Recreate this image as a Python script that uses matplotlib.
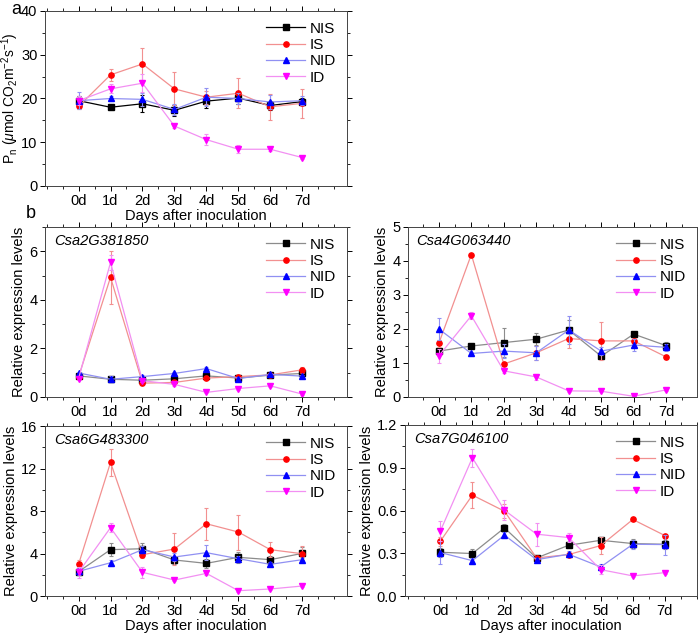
import matplotlib
matplotlib.use('Agg')
import matplotlib.pyplot as plt
import numpy as np
from matplotlib.ticker import MultipleLocator, FormatStrFormatter

plt.rcParams['font.family'] = ['Liberation Sans', 'DejaVu Sans']
plt.rcParams['mathtext.fontset'] = 'custom'
plt.rcParams['mathtext.rm'] = 'Liberation Sans'
plt.rcParams['mathtext.it'] = 'Liberation Sans:italic'

dias = ['0d', '1d', '2d', '3d', '4d', '5d', '6d', '7d']
grupos = ['NIS', 'IS', 'NID', 'ID']

# Painel a: fotossintese
pn_nis = [19.5, 18.0, 18.8, 17.3, 19.4, 20.1, 18.4, 19.3]
pn_is = [18.2, 25.4, 27.9, 22.2, 20.3, 21.2, 18.1, 18.9]
pn_nid = [19.5, 20.0, 19.8, 17.5, 20.3, 20.0, 19.2, 19.5]
pn_id = [19.5, 22.2, 23.5, 13.7, 10.6, 8.4, 8.4, 6.5]
pn_nis_err = [1.0, 0.5, 2.0, 1.3, 1.5, 1.3, 1.0, 0.8]
pn_is_err = [0.6, 1.3, 3.6, 3.8, 1.5, 3.4, 3.0, 3.3]
pn_nid_err = [2.0, 0.6, 1.5, 1.2, 2.0, 1.2, 1.5, 1.0]
pn_id_err = [1.0, 1.0, 2.0, 0.4, 1.2, 0.9, 0.5, 0.4]

# Painel b: expressao relativa
g1_nis = [0.87, 0.73, 0.69, 0.75, 0.87, 0.78, 0.90, 0.97]
g1_is = [0.83, 4.93, 0.57, 0.60, 0.78, 0.84, 0.91, 1.12]
g1_nid = [0.99, 0.73, 0.84, 0.97, 1.17, 0.76, 0.93, 0.86]
g1_id = [0.76, 5.54, 0.67, 0.52, 0.19, 0.35, 0.46, 0.12]
g1_nis_err = [0.06, 0.1, 0.05, 0.05, 0.06, 0.05, 0.1, 0.08]
g1_is_err = [0.05, 1.1, 0.08, 0.08, 0.1, 0.05, 0.05, 0.12]
g1_nid_err = [0.06, 0.12, 0.05, 0.05, 0.05, 0.05, 0.06, 0.05]
g1_id_err = [0.06, 0.3, 0.05, 0.08, 0.04, 0.08, 0.05, 0.03]

g2_nis = [1.35, 1.50, 1.60, 1.70, 1.97, 1.20, 1.85, 1.51]
g2_is = [1.58, 4.19, 0.97, 1.30, 1.72, 1.65, 1.65, 1.18]
g2_nid = [2.00, 1.28, 1.35, 1.30, 1.97, 1.35, 1.53, 1.46]
g2_id = [1.21, 2.39, 0.77, 0.59, 0.18, 0.17, 0.02, 0.21]
g2_nis_err = [0.1, 0.03, 0.42, 0.17, 0.3, 0.05, 0.05, 0.1]
g2_is_err = [0.1, 0.03, 0.05, 0.2, 0.28, 0.57, 0.1, 0.05]
g2_nid_err = [0.33, 0.03, 0.2, 0.2, 0.4, 0.12, 0.17, 0.1]
g2_id_err = [0.2, 0.1, 0.05, 0.1, 0.03, 0.03, 0.02, 0.03]

g3_nis = [2.29, 4.36, 4.45, 3.39, 3.07, 3.64, 3.42, 4.01]
g3_is = [2.98, 12.57, 3.89, 4.42, 6.80, 6.02, 4.36, 3.98]
g3_nid = [2.32, 3.13, 4.36, 3.67, 4.08, 3.51, 2.98, 3.42]
g3_id = [2.23, 6.43, 2.23, 1.50, 2.13, 0.50, 0.66, 0.94]
g3_nis_err = [0.3, 0.6, 0.5, 0.4, 0.4, 0.5, 0.3, 0.6]
g3_is_err = [0.4, 1.3, 0.3, 1.5, 1.5, 1.65, 0.7, 0.7]
g3_nid_err = [0.3, 0.3, 0.3, 0.4, 0.7, 0.3, 0.2, 0.2]
g3_id_err = [0.5, 0.4, 0.5, 0.1, 0.2, 0.1, 0.1, 0.1]

g4_nis = [0.307, 0.298, 0.478, 0.267, 0.356, 0.391, 0.368, 0.363]
g4_is = [0.384, 0.708, 0.595, 0.267, 0.291, 0.354, 0.537, 0.424]
g4_nid = [0.305, 0.248, 0.427, 0.255, 0.293, 0.204, 0.363, 0.361]
g4_id = [0.455, 0.970, 0.602, 0.434, 0.410, 0.185, 0.141, 0.164]
g4_nis_err = [0.03, 0.03, 0.03, 0.01, 0.02, 0.01, 0.03, 0.03]
g4_is_err = [0.03, 0.09, 0.05, 0.01, 0.02, 0.06, 0.01, 0.01]
g4_nid_err = [0.08, 0.02, 0.02, 0.01, 0.02, 0.02, 0.03, 0.07]
g4_id_err = [0.07, 0.065, 0.07, 0.08, 0.03, 0.03, 0.01, 0.01]

genes = ['Csa2G381850', 'Csa4G063440', 'Csa6G483300', 'Csa7G046100']

# cor do marcador, cor da linha, marcador
estilos = {
    'NIS': ('black', '#8c8c8c', 's'),
    'IS': ('red', '#f29090', 'o'),
    'NID': ('blue', '#9090f2', '^'),
    'ID': ('magenta', '#f290f2', 'v'),
}

W, H = 698, 633
fig = plt.figure(figsize=(W / 100, H / 100), dpi=100)
FS = 10.5


def eixo(l, r, t, b):
    return fig.add_axes([l / W, 1 - b / H, (r - l) / W, (b - t) / H])


def desenha(ax, series, erros, linha_nis=None):
    x = np.arange(len(dias))
    for g, y, e in zip(grupos, series, erros):
        cm, cl, mk = estilos[g]
        if g == 'NIS' and linha_nis:
            cl = linha_nis
        ax.errorbar(x, y, yerr=e, fmt='none', ecolor=cl, elinewidth=0.8,
                    capsize=1.5, capthick=0.8)
        ax.plot(x, y, color=cl, lw=0.9, marker=mk, ms=3.8, mfc=cm, mec=cm, label=g)
    ax.set_xticks(x)
    ax.set_xticklabels(dias)
    ax.xaxis.set_minor_locator(MultipleLocator(0.5))
    ax.tick_params(labelsize=FS, direction='out', length=3.5, width=0.7, pad=2)
    ax.tick_params(which='minor', direction='out', length=2, width=0.6)
    ax.tick_params(which='both', top=True, right=True)
    for s in ax.spines.values():
        s.set_linewidth(0.7)
        s.set_color('#444444')
    ax.legend(loc='upper right', frameon=False, fontsize=11, handlelength=2.6,
              handletextpad=0.3, labelspacing=0.15, borderaxespad=0.3)


# Painel a
ax = eixo(45, 347, 11, 186)
desenha(ax, [pn_nis, pn_is, pn_nid, pn_id], [pn_nis_err, pn_is_err, pn_nid_err, pn_id_err],
        linha_nis='black')
ax.set_xlim(-1.05, 8.4)
ax.set_ylim(0, 40)
ax.yaxis.set_major_locator(MultipleLocator(10))
ax.yaxis.set_minor_locator(MultipleLocator(5))
ax.set_xlabel('Days after inoculation', fontsize=FS, labelpad=1)
ax.set_ylabel(r'P$_\mathrm{n}$ ($\mu$mol CO$_2$m$^{-2}$s$^{-1}$)', fontsize=10, labelpad=0)
fig.text(16 / W, 1 - 9 / H, 'a', fontsize=13, ha='center', va='center')

# Painel b
dados = [
    ([g1_nis, g1_is, g1_nid, g1_id], [g1_nis_err, g1_is_err, g1_nid_err, g1_id_err], (45, 347, 227, 397), (0, 7), 2, 1, (-1.05, 8.4)),
    ([g2_nis, g2_is, g2_nid, g2_id], [g2_nis_err, g2_is_err, g2_nid_err, g2_id_err], (408, 697, 227, 397), (0, 5), 1, 0.5, (-0.95, 7.95)),
    ([g3_nis, g3_is, g3_nid, g3_id], [g3_nis_err, g3_is_err, g3_nid_err, g3_id_err], (45, 347, 426, 596), (0, 16), 4, 2, (-1.05, 8.4)),
    ([g4_nis, g4_is, g4_nid, g4_id], [g4_nis_err, g4_is_err, g4_nid_err, g4_id_err], (405, 697, 425, 596), (0, 1.2), 0.3, 0.15, (-1.1, 8.0)),
]
for i, (ser, err, pos, yl, maj, mnr, xl) in enumerate(dados):
    ax = eixo(*pos)
    desenha(ax, ser, err)
    ax.set_xlim(*xl)
    ax.set_ylim(*yl)
    ax.yaxis.set_major_locator(MultipleLocator(maj))
    ax.yaxis.set_minor_locator(MultipleLocator(mnr))
    if i == 3:
        ax.yaxis.set_major_formatter(FormatStrFormatter('%.1f'))
    ax.set_ylabel('Relative expression levels', fontsize=FS, labelpad=2)
    if i >= 2:
        ax.set_xlabel('Days after inoculation', fontsize=FS, labelpad=1)
    ax.text(0.03, 0.96, genes[i], transform=ax.transAxes, fontsize=FS,
            style='italic', ha='left', va='top')
fig.text(31 / W, 1 - 214 / H, 'b', fontsize=13, ha='center', va='center')

fig.savefig('out.png', dpi=100)
